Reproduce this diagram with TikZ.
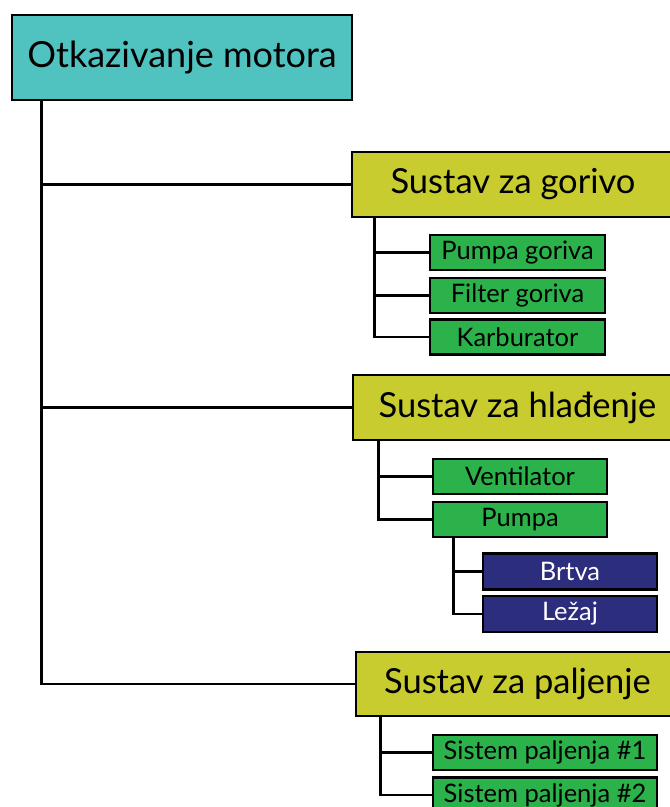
\documentclass[tikz,border=0pt]{standalone}
\usepackage{fontspec}
\setmainfont{Lato}
\definecolor{rootc}{HTML}{50C2BF}
\definecolor{sysc}{HTML}{C8CC2F}
\definecolor{subc}{HTML}{2CB24B}
\definecolor{partc}{HTML}{2C2D7D}
\begin{document}
\begin{tikzpicture}[x=1pt,y=-1pt,
  box/.style={draw=black,line width=2.8pt,inner sep=0pt,rectangle},
  rootbox/.style={box,fill=rootc,minimum width=340pt,minimum height=85pt,font=\fontsize{36}{40}\selectfont},
  sysbox/.style={box,fill=sysc,minimum height=65pt,font=\fontsize{34.5}{38}\selectfont},
  subbox/.style={box,fill=subc,minimum height=35pt,font=\fontsize{25.5}{28}\selectfont},
  partbox/.style={box,fill=partc,text=white,minimum width=174pt,minimum height=36pt,font=\fontsize{25.5}{28}\selectfont},
  link/.style={draw=black,line width=2.5pt}]
\clip (0,0) rectangle (670,807);
\node[rootbox] (root) at (182,57.5) {Otkazivanje motora};
\node[sysbox,minimum width=322pt] (gor) at (513,184.5) {Sustav za gorivo};
\node[sysbox,minimum width=329pt] (hla) at (517.5,407.5) {Sustav za hlađenje};
\node[sysbox,minimum width=323pt,minimum height=64pt] (pal) at (517.5,684) {Sustav za paljenje};
\node[subbox,minimum width=175pt] (pg) at (517.5,252.5) {Pumpa goriva};
\node[subbox,minimum width=175pt] (fg) at (517.5,295.5) {Filter goriva};
\node[subbox,minimum width=175pt] (kar) at (517.5,337) {Karburator};
\node[subbox,minimum width=174pt] (ven) at (520,476.5) {Ventilator};
\node[subbox,minimum width=174pt] (pum) at (520,519.5) {Pumpa};
\node[partbox] (brt) at (570,571.5) {Brtva};
\node[partbox] (lez) at (570,614) {Ležaj};
\node[subbox,minimum width=224pt] (sp1) at (545,752.5) {Sistem paljenja \#1};
\node[subbox,minimum width=224pt] (sp2) at (545,795) {Sistem paljenja \#2};
\draw[link] ([xshift=31pt]root.south west) |- (gor.west);
\draw[link] ([xshift=31pt]root.south west) |- (hla.west);
\draw[link] ([xshift=31pt]root.south west) |- (pal.west);
\draw[link] ([xshift=24pt]gor.south west) |- (pg.west);
\draw[link] ([xshift=24pt]gor.south west) |- (fg.west);
\draw[link] ([xshift=24pt]gor.south west) |- (kar.west);
\draw[link] ([xshift=27pt]hla.south west) |- (ven.west);
\draw[link] ([xshift=27pt]hla.south west) |- (pum.west);
\draw[link] ([xshift=22pt]pum.south west) |- (brt.west);
\draw[link] ([xshift=22pt]pum.south west) |- (lez.west);
\draw[link] ([xshift=26pt]pal.south west) |- (sp1.west);
\draw[link] ([xshift=26pt]pal.south west) |- (sp2.west);
\end{tikzpicture}
\end{document}
